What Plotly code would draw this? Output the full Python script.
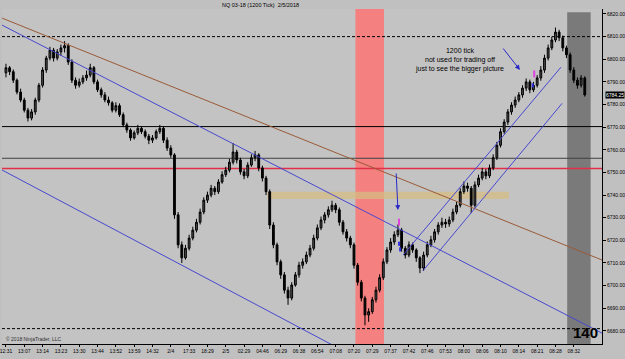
import plotly.graph_objects as go

# ---------------- data ----------------
opens = [6794, 6796.25, 6794.5, 6790.75, 6785.5, 6782, 6777.5, 6774, 6776.75, 6782,
         6788.5, 6795.25, 6800.5, 6804, 6800.5, 6803.25, 6805, 6806, 6798.75, 6790.75,
         6788.5, 6790, 6791.75, 6793, 6796.25, 6790, 6786.5, 6784.25, 6782, 6780.75,
         6777.5, 6779.5, 6775.5, 6771, 6768.75, 6765.25, 6767.5, 6769.5, 6768, 6766,
         6764.25, 6765.25, 6768, 6769.5, 6764.25, 6760.75, 6757.75, 6731.25, 6718, 6712.25,
         6716.5, 6721, 6724.5, 6728, 6732.5, 6737.75, 6740, 6743, 6741.5, 6745.75,
         6749, 6751, 6754.5, 6759, 6755.5, 6750.25, 6748.5, 6753.25, 6756.5, 6757.75,
         6752, 6747.5, 6741.5, 6726.75, 6718, 6710.5, 6704.75, 6698, 6694.5, 6700.25,
         6704.75, 6709, 6710.5, 6713.5, 6716.5, 6721, 6725.5, 6729, 6731.25, 6733.5,
         6735.5, 6733.5, 6728, 6723.75, 6721, 6718, 6709, 6701.5, 6694.5, 6687,
         6688.5, 6693.75, 6698, 6703.5, 6710.5, 6715.75, 6719.25, 6722.5, 6724.5, 6716.5,
         6713.5, 6718, 6715.75, 6712.25, 6707.75, 6713.5, 6718, 6720.25, 6723.75, 6726.75,
         6728, 6727.25, 6729, 6732.5, 6735.5, 6741.5, 6744, 6743, 6735.5, 6744.5,
         6747.5, 6750.25, 6748.5, 6752, 6756.5, 6762, 6768, 6772.25, 6776.75, 6779.75,
         6782, 6784.25, 6787.25, 6790, 6786.5, 6788.5, 6791.75, 6795.25, 6800.5, 6805,
         6808.5, 6812, 6809.5, 6805, 6802, 6795.25, 6790.75, 6788.5, 6791.75]
highs = [6798, 6797, 6795.5, 6791.5, 6787, 6783, 6778.5, 6778, 6783, 6789.5,
         6796.5, 6801.5, 6805.5, 6805, 6804.5, 6806.5, 6808, 6807, 6800, 6792,
         6791.5, 6793, 6795, 6798, 6797, 6791, 6787.5, 6785.5, 6783.5, 6781.5,
         6781, 6780.5, 6776.5, 6772, 6769.5, 6768.5, 6771, 6770.5, 6769, 6767,
         6766.5, 6769, 6771, 6770.5, 6765.5, 6762, 6758.5, 6732.5, 6719.5, 6718,
         6722.5, 6726, 6729.5, 6734, 6739, 6741.5, 6744.5, 6744, 6747, 6750.5,
         6752.5, 6756, 6763, 6760, 6756.5, 6751.5, 6754.5, 6758, 6759.5, 6758.5,
         6753, 6748.5, 6742.5, 6728, 6719, 6711.5, 6706, 6699.5, 6701.5, 6706,
         6710.5, 6712, 6715, 6718, 6722.5, 6727, 6730.5, 6732.5, 6735, 6737.5,
         6736.5, 6734.5, 6729, 6725, 6722, 6719, 6710, 6702.5, 6695.5, 6690,
         6695, 6699.5, 6705, 6712, 6717, 6721, 6724, 6727, 6725.5, 6717.5,
         6719.5, 6719, 6716.5, 6713, 6715, 6719.5, 6722, 6725, 6728, 6730,
         6729.5, 6730.5, 6734, 6737, 6743, 6746, 6745.5, 6744, 6746, 6749,
         6752, 6751.5, 6753.5, 6758, 6763.5, 6769.5, 6773.5, 6778, 6781, 6783.5,
         6785.5, 6788.5, 6791.5, 6791, 6790, 6793, 6797, 6802, 6806.5, 6810,
         6814, 6813, 6810.5, 6806, 6803, 6796.5, 6792, 6793, 6792.5]
lows = [6792, 6793, 6789.5, 6784.5, 6781, 6776.5, 6772.5, 6773, 6775.5, 6781,
        6787.5, 6794, 6799.5, 6799, 6799.5, 6801.5, 6803, 6797.5, 6789.5, 6787,
        6787.5, 6789, 6790.5, 6792, 6789, 6785.5, 6783, 6781, 6779.5, 6776.5,
        6776.5, 6774.5, 6770, 6767.5, 6764, 6764.5, 6766.5, 6767, 6765, 6762.5,
        6763, 6764.5, 6767, 6763, 6759.5, 6756.5, 6729.5, 6716.5, 6710, 6711.5,
        6715.5, 6720, 6723.5, 6727, 6731.5, 6736.5, 6739, 6740, 6740.5, 6745,
        6748, 6750, 6753.5, 6754, 6749, 6747, 6747.5, 6752.5, 6755, 6750.5,
        6746, 6740, 6725, 6716.5, 6709, 6703, 6696.5, 6691.5, 6693.5, 6699.5,
        6703.5, 6707.5, 6709.5, 6712.5, 6715.5, 6720, 6724.5, 6727.5, 6730, 6732.5,
        6732, 6726.5, 6722.5, 6719.5, 6716.5, 6707.5, 6700, 6693, 6682.5, 6684,
        6687.5, 6692.5, 6697, 6702.5, 6709.5, 6714.5, 6718, 6721.5, 6715, 6712,
        6712.5, 6714.5, 6710.5, 6705.5, 6706.5, 6712.5, 6717, 6719, 6722.5, 6725.5,
        6725.5, 6726, 6728, 6731.5, 6734.5, 6740.5, 6741.5, 6732, 6734.5, 6743.5,
        6746.5, 6747, 6747.5, 6751, 6755.5, 6761, 6767, 6771, 6775.5, 6778.5,
        6781, 6783, 6786, 6785, 6785.5, 6787.5, 6790.5, 6794, 6799.5, 6804,
        6807.5, 6808, 6803.5, 6800.5, 6794, 6789.5, 6787, 6787.5, 6783.5]
closes = [6796.25, 6794.5, 6790.75, 6785.5, 6782, 6777.5, 6774, 6776.75, 6782, 6788.5,
          6795.25, 6800.5, 6804, 6800.5, 6803.25, 6805, 6806, 6798.75, 6790.75, 6788.5,
          6790, 6791.75, 6793, 6796.25, 6790, 6786.5, 6784.25, 6782, 6780.75, 6777.5,
          6779.5, 6775.5, 6771, 6768.75, 6765.25, 6767.5, 6769.5, 6768, 6766, 6764.25,
          6765.25, 6768, 6769.5, 6764.25, 6760.75, 6757.75, 6731.25, 6718, 6712.25, 6716.5,
          6721, 6724.5, 6728, 6732.5, 6737.75, 6740, 6743, 6741.5, 6745.75, 6749,
          6751, 6754.5, 6759, 6755.5, 6750.25, 6748.5, 6753.25, 6756.5, 6757.75, 6752,
          6747.5, 6741.5, 6726.75, 6718, 6710.5, 6704.75, 6698, 6694.5, 6700.25, 6704.75,
          6709, 6710.5, 6713.5, 6716.5, 6721, 6725.5, 6729, 6731.25, 6733.5, 6735.5,
          6733.5, 6728, 6723.75, 6721, 6718, 6709, 6701.5, 6694.5, 6687, 6688.5,
          6693.75, 6698, 6703.5, 6710.5, 6715.75, 6719.25, 6722.5, 6724.5, 6716.5, 6713.5,
          6718, 6715.75, 6712.25, 6707.75, 6713.5, 6718, 6720.25, 6723.75, 6726.75, 6728,
          6727.25, 6729, 6732.5, 6735.5, 6741.5, 6744, 6743, 6735.5, 6744.5, 6747.5,
          6750.25, 6748.5, 6752, 6756.5, 6762, 6768, 6772.25, 6776.75, 6779.75, 6782,
          6784.25, 6787.25, 6790, 6786.5, 6788.5, 6791.75, 6795.25, 6800.5, 6805, 6808.5,
          6812, 6809.5, 6805, 6802, 6795.25, 6790.75, 6788.5, 6791.75, 6784.25]
bar_index = list(range(len(closes)))

tick_labels = ["12:31", "13:07", "13:14", "13:23", "13:30", "13:44", "13:52", "13:59",
               "14:32", "2/4", "17:33", "18:29", "2/5", "02:29", "04:46", "06:29",
               "06:38", "06:54", "07:08", "07:20", "07:29", "07:37", "07:42", "07:46",
               "07:53", "08:00", "08:06", "08:10", "08:14", "08:21", "08:28", "08:32"]
tick_positions = [0, 5, 10, 15, 20, 25, 30, 35, 40, 45, 50, 55, 60, 65, 70, 75,
                  80, 85, 90, 95, 100, 105, 110, 115, 120, 125, 130, 135, 140, 145, 150, 155]
price_ticks = [6680, 6690, 6700, 6710, 6720, 6730, 6740, 6750, 6760, 6770, 6780,
               6790, 6800, 6810, 6820]

# drawing-tool levels (price) and ranges (bar index)
dashed_levels = [6810, 6681]
black_level = 6770.25
gray_level = 6756.25
red_level = 6751.75
tan_zone = (71.4, 137.3, 6738.3, 6741.5)
red_zone = (95.4, 103.2)
gray_zone = (153.2, 159.6)
brown_line = ((-1.1, 6818.2), (162.7, 6711.3))
blue_line_1 = ((-1.1, 6815.1), (162.7, 6679.0))
blue_line_2 = ((-1.1, 6751.1), (90.0, 6673.0))
channel_upper = ((108.4, 6713.5), (151.5, 6796.5))
channel_lower = ((113.8, 6706.5), (151.8, 6780.5))
last_price = 6784.25

X_RANGE = [-1.08, 162.7]
Y_RANGE = [6674.2, 6822.2]

FONT = "Arial, Liberation Sans, sans-serif"
BLUE = "#4848d0"

fig = go.Figure()

fig.add_trace(go.Candlestick(
    x=bar_index, open=opens, high=highs, low=lows, close=closes,
    increasing=dict(line=dict(color="#000000", width=1), fillcolor="#505050"),
    decreasing=dict(line=dict(color="#000000", width=1), fillcolor="#000000"),
    whiskerwidth=0, showlegend=False, hoverinfo="skip",
))

# small markers
fig.add_trace(go.Scatter(x=[107.3, 144.2], y=[6728.0, 6793.5], mode="markers",
                         marker=dict(symbol="line-ns", size=5, line=dict(color="#e040e0", width=2)),
                         showlegend=False, hoverinfo="skip"))
fig.add_trace(go.Scatter(x=[107.3, 107.6, 143.8], y=[6718.5, 6716.0, 6788.5], mode="markers",
                         marker=dict(symbol="line-ns", size=3, line=dict(color="#3030e0", width=2)),
                         showlegend=False, hoverinfo="skip"))

shapes = []
# zones
shapes.append(dict(type="rect", xref="x", yref="paper", x0=red_zone[0], x1=red_zone[1], y0=0, y1=1,
                   fillcolor="#f48080", line=dict(width=0), layer="below"))
shapes.append(dict(type="rect", xref="x", yref="paper", x0=gray_zone[0], x1=gray_zone[1], y0=0, y1=0.99,
                   fillcolor="#7a7a7a", line=dict(width=0), layer="below"))
shapes.append(dict(type="rect", xref="x", yref="y", x0=tan_zone[0], x1=tan_zone[1], y0=tan_zone[2], y1=tan_zone[3],
                   fillcolor="rgba(214,188,130,0.75)", line=dict(width=0), layer="below"))
# horizontal levels
for lv in dashed_levels:
    shapes.append(dict(type="line", xref="paper", yref="y", x0=0, x1=1, y0=lv, y1=lv,
                       line=dict(color="#000000", width=1, dash="3px,2px"), layer="below"))
shapes.append(dict(type="line", xref="paper", yref="y", x0=0, x1=1, y0=black_level, y1=black_level,
                   line=dict(color="#000000", width=1), layer="below"))
shapes.append(dict(type="line", xref="paper", yref="y", x0=0, x1=1, y0=gray_level, y1=gray_level,
                   line=dict(color="#404040", width=1), layer="below"))
shapes.append(dict(type="line", xref="paper", yref="y", x0=0, x1=1, y0=red_level, y1=red_level,
                   line=dict(color="#e03048", width=1.5), layer="below"))
# trend lines
for (p0, p1), col in [(brown_line, "#9a5a38"), (blue_line_1, BLUE), (blue_line_2, BLUE),
                      (channel_upper, BLUE), (channel_lower, BLUE)]:
    shapes.append(dict(type="line", xref="x", yref="y", x0=p0[0], y0=p0[1], x1=p1[0], y1=p1[1],
                       line=dict(color=col, width=1)))

annotations = [
    dict(text="NQ 03-18 (1200 Tick)  2/5/2018", xref="paper", yref="paper", x=0.43, y=1,
         yanchor="bottom", xanchor="center", showarrow=False, font=dict(size=5.5, color="#000000", family=FONT),
         yshift=-1),
    dict(text="1200 tick<br>not used for trading off<br>just to see the bigger picture", xref="x", yref="y",
         x=123.8, y=6799.5, showarrow=False, font=dict(size=7, color="#000000", family=FONT), align="center"),
    dict(text="<b>140</b>", xref="x", yref="y", x=158.3, y=6679.2, showarrow=False,
         font=dict(size=15, color="#000000", family=FONT)),
    dict(text="© 2018 NinjaTrader, LLC", xref="paper", yref="paper", x=0.003, y=0.0, xanchor="left",
         yanchor="bottom", showarrow=False, font=dict(size=5, color="#303030", family=FONT)),
    dict(text=f"{last_price:.2f}", xref="paper", yref="y", x=1.0, y=last_price, xanchor="left",
         showarrow=False, bgcolor="#000000", font=dict(size=5, color="#ffffff", family=FONT), borderpad=0,
         xshift=3),
    # arrows
    dict(x=107.0, y=6733.4, ax=106.5, ay=6750.2, xref="x", yref="y", axref="x", ayref="y", text="",
         showarrow=True, arrowhead=2, arrowsize=1, arrowwidth=1, arrowcolor="#2828c8"),
    dict(x=140.3, y=6795.3, ax=135.4, ay=6805.4, xref="x", yref="y", axref="x", ayref="y", text="",
         showarrow=True, arrowhead=2, arrowsize=1, arrowwidth=1, arrowcolor="#2828c8"),
]

fig.update_layout(
    width=625, height=359,
    margin=dict(l=0, r=19, t=9, b=15),
    paper_bgcolor="#c0c0c0", plot_bgcolor="#c3c3c3",
    shapes=shapes, annotations=annotations,
    showlegend=False,
    xaxis=dict(range=X_RANGE, tickmode="array", tickvals=tick_positions, ticktext=tick_labels,
               showgrid=False, zeroline=False, showline=True, linecolor="#000000", linewidth=1,
               ticks="outside", ticklen=2, tickcolor="#000000", ticklabeloverflow="allow",
               tickfont=dict(size=5, color="#000000", family=FONT),
               rangeslider=dict(visible=False), fixedrange=True),
    yaxis=dict(range=Y_RANGE, side="right", tickmode="array", tickvals=price_ticks,
               ticktext=[f"{v:.2f}" for v in price_ticks],
               showgrid=False, zeroline=False, showline=True, linecolor="#000000", linewidth=1,
               ticks="outside", ticklen=3, tickcolor="#000000",
               tickfont=dict(size=5, color="#000000", family=FONT), fixedrange=True),
)

fig.write_html("out.html")
